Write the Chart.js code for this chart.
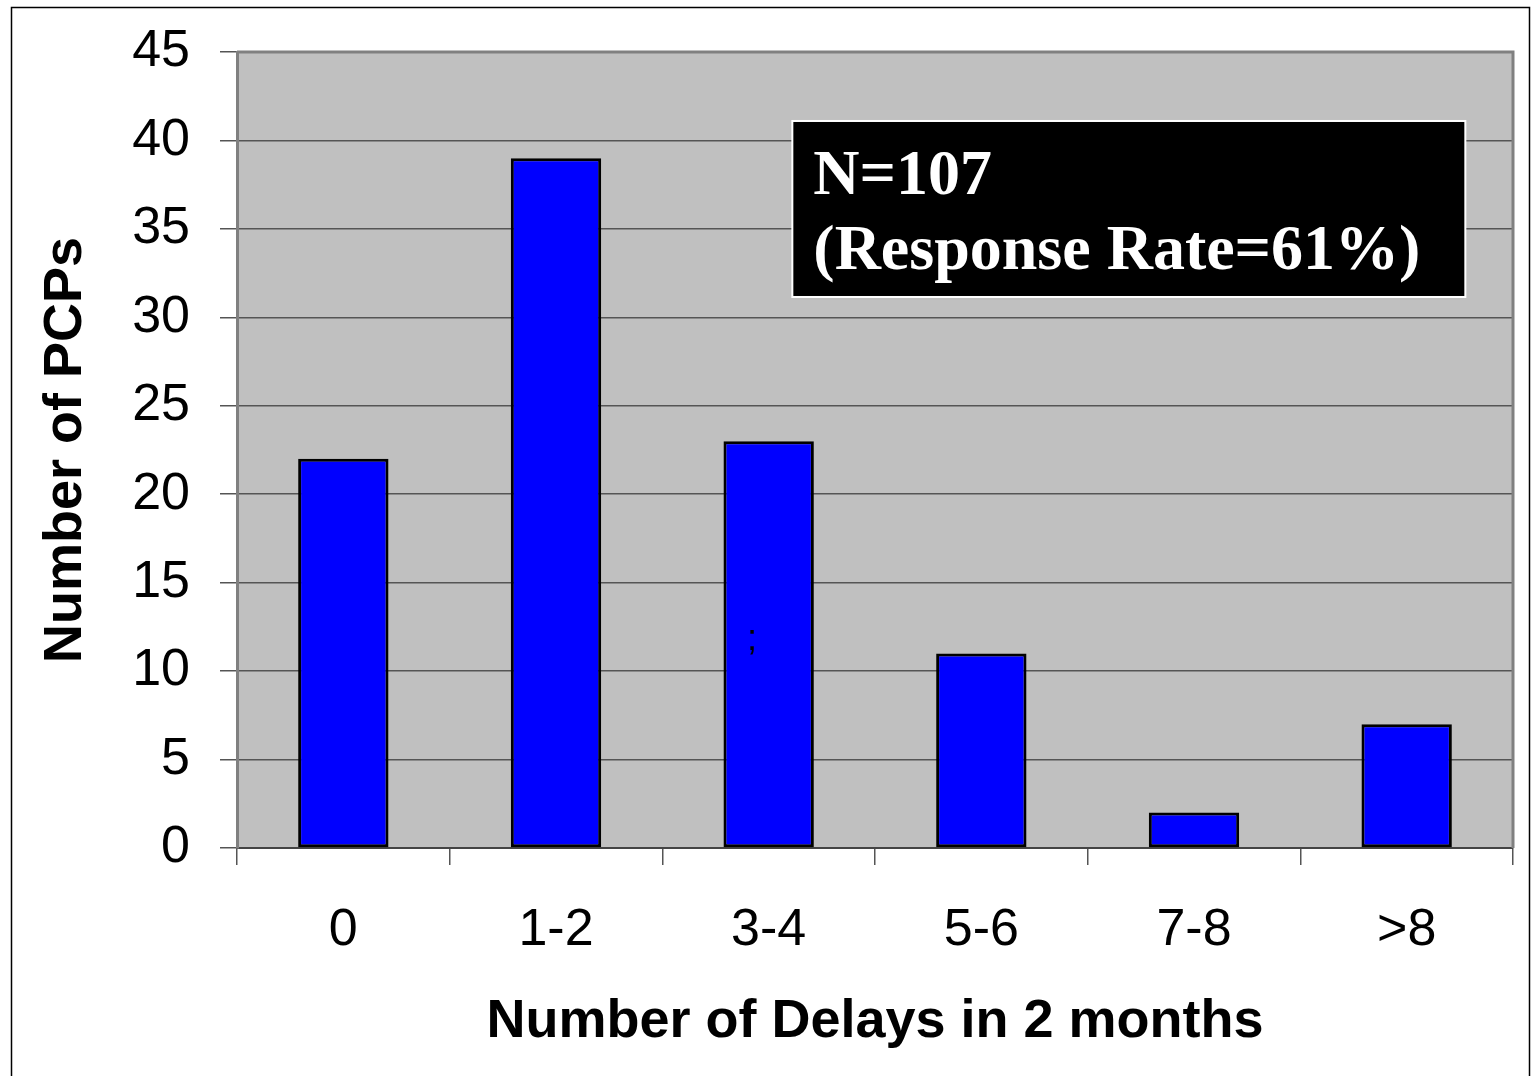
<!DOCTYPE html>
<html>
<head>
<meta charset="utf-8">
<script src="https://cdn.jsdelivr.net/npm/chart.js@4/dist/chart.umd.min.js"></script>
<style>
  html, body { margin: 0; padding: 0; background: #fff; }
  canvas { display: block; }
</style>
</head>
<body>
<canvas id="delayChart" width="1532" height="1076"></canvas>
<script>
let categories = ['0', '1-2', '3-4', '5-6', '7-8', '>8'];
let pcpCounts = [22, 39, 23, 11, 2, 7];
let yTicks = [0, 5, 10, 15, 20, 25, 30, 35, 40, 45];
let noteLines = ['N=107', '(Response Rate=61%)'];

// gray plot area, frame, note box
let decorations = {
    id: 'decorations',
    beforeDraw: (chart) => {
        let ctx = chart.ctx;
        let a = chart.chartArea;
        ctx.save();
        ctx.fillStyle = '#ffffff';
        ctx.fillRect(0, 0, chart.width, chart.height);
        ctx.fillStyle = '#c0c0c0';
        ctx.fillRect(a.left, a.top, a.right - a.left, a.bottom - a.top);
        ctx.strokeStyle = '#000';
        ctx.lineWidth = 1.5;
        ctx.strokeRect(11.5, 7.5, 1518, 1070);
        ctx.restore();
    },
    afterDatasetsDraw: (chart) => {
        let ctx = chart.ctx;
        let a = chart.chartArea;
        ctx.save();
        // top and right frame of plot
        ctx.strokeStyle = '#808080';
        ctx.lineWidth = 3;
        ctx.beginPath();
        ctx.moveTo(a.left, a.top);
        ctx.lineTo(a.right, a.top);
        ctx.lineTo(a.right, a.bottom);
        ctx.stroke();

        // stray semicolon in the 3-4 bar
        ctx.fillStyle = '#000';
        ctx.font = '36px "Liberation Sans", Arial, sans-serif';
        ctx.textAlign = 'center';
        ctx.textBaseline = 'alphabetic';
        ctx.fillText(';', 752, 650);

        // note box
        let x = chart.scales.x;
        let y = chart.scales.y;
        let bx = x.getPixelForValue(3) - 189;
        let by = y.getPixelForValue(41.1);
        ctx.fillStyle = '#000';
        ctx.fillRect(bx, by, 673, 176);
        ctx.strokeStyle = '#fff';
        ctx.lineWidth = 2;
        ctx.strokeRect(bx, by, 673, 176);
        ctx.fillStyle = '#fff';
        ctx.textAlign = 'left';
        ctx.font = 'bold 64px "Liberation Serif", "Times New Roman", serif';
        ctx.fillText(noteLines[0], bx + 21, by + 73);
        ctx.fillText(noteLines[1], bx + 21, by + 148);
        ctx.restore();
    }
};

let drawChart = () => {
    let ctx = document.getElementById('delayChart');
    new Chart(ctx, {
        type: 'bar',
        data: {
            labels: categories,
            datasets: [{
                data: pcpCounts,
                backgroundColor: '#0000ff',
                borderColor: '#000000',
                borderWidth: 3,
                borderSkipped: false,
                barPercentage: 0.425,
                categoryPercentage: 1
            }]
        },
        options: {
            responsive: false,
            animation: false,
            devicePixelRatio: 1,
            layout: { padding: { left: 12, top: 52, right: 19, bottom: 0 } },
            plugins: { legend: { display: false }, tooltip: { enabled: false } },
            scales: {
                x: {
                    afterFit: (scale) => {
                        scale.height = 228;
                        scale.paddingLeft = 0;
                        scale.paddingRight = 0;
                    },
                    grid: {
                        offset: true,
                        drawOnChartArea: false,
                        tickLength: 17,
                        color: '#555',
                        lineWidth: 1.5
                    },
                    border: { color: '#444', width: 2 },
                    ticks: {
                        color: '#000',
                        padding: 34,
                        font: { family: '"Liberation Sans", Arial, sans-serif', size: 52 }
                    },
                    title: {
                        display: true,
                        text: 'Number of Delays in 2 months',
                        color: '#000',
                        padding: { top: 0, bottom: 21 },
                        font: { family: '"Liberation Sans", Arial, sans-serif', size: 54, weight: 'bold' }
                    }
                },
                y: {
                    min: 0,
                    max: 45,
                    afterFit: (scale) => {
                        scale.width = 225;
                        scale.paddingTop = 0;
                        scale.paddingBottom = 0;
                    },
                    afterBuildTicks: (scale) => { scale.ticks = yTicks.map(v => ({ value: v })); },
                    grid: {
                        tickLength: 17,
                        color: '#555',
                        lineWidth: 1.5
                    },
                    border: { color: '#808080', width: 3 },
                    ticks: {
                        color: '#000',
                        padding: 30,
                        font: { family: '"Liberation Sans", Arial, sans-serif', size: 52 }
                    },
                    title: {
                        display: true,
                        text: 'Number of PCPs',
                        color: '#000',
                        padding: { top: 22, bottom: 0 },
                        font: { family: '"Liberation Sans", Arial, sans-serif', size: 54, weight: 'bold' }
                    }
                }
            }
        },
        plugins: [decorations]
    });
};

drawChart();
</script>
</body>
</html>
